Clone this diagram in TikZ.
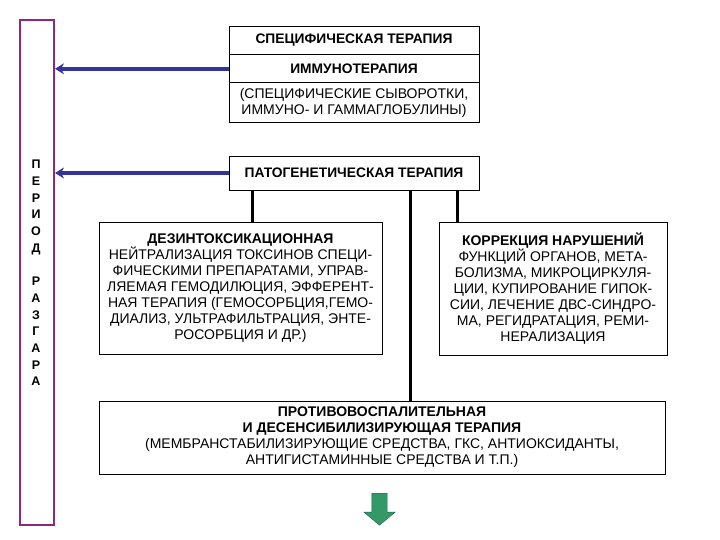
\documentclass[tikz,border=0pt]{standalone}
\usepackage{fontspec}
\setmainfont{Liberation Sans}
\usetikzlibrary{positioning,arrows.meta,shapes.arrows}
\definecolor{arrowblue}{RGB}{51,51,153}
\definecolor{barpurple}{RGB}{140,40,130}
\definecolor{nextgreen}{RGB}{51,153,102}
\definecolor{nextedge}{RGB}{30,100,70}
\begin{document}
\begin{tikzpicture}[x=1pt, y=-1pt,
      every node/.style={inner sep=2pt, align=center, font=\fontsize{14}{16}\selectfont},
      box/.style={draw, line width=0.8pt},
      topbox/.style={box, minimum width=250pt},
      periodbar/.style={draw=barpurple, line width=2pt, minimum width=34pt, minimum height=505pt},
      tomain/.style={arrowblue, line width=4pt, -{Stealth[length=9pt, width=11pt]}},
      link/.style={line width=3pt},
      nextstep/.style={single arrow, shape border rotate=270, fill=nextgreen, draw=nextedge,
        inner sep=7.5pt, single arrow head extend=8pt, single arrow tip angle=100, minimum height=32pt}]
      \useasboundingbox (0,0) rectangle (720,540);
      \node[periodbar] (period) at (37,272.5) {};
      \node[font=\bfseries\fontsize{12.5}{16.7}\selectfont] (periodtext) at (36,273)
        {П\\Е\\Р\\И\\О\\Д\\ \\Р\\А\\З\\Г\\А\\Р\\А};
      \node[topbox, minimum height=28pt, font=\bfseries\fontsize{13.8}{16}\selectfont] (spec) at (354,40) {СПЕЦИФИЧЕСКАЯ ТЕРАПИЯ};
      \node[topbox, minimum height=28pt, font=\bfseries\fontsize{13.8}{16}\selectfont, below=0pt of spec] (immuno) {ИММУНОТЕРАПИЯ};
      \node[topbox, minimum height=40pt, below=-0.8pt of immuno] (sera) {(СПЕЦИФИЧЕСКИЕ СЫВОРОТКИ,\\ИММУНО- И ГАММАГЛОБУЛИНЫ)};
      \node[topbox, minimum height=34pt, font=\bfseries\fontsize{13.8}{16}\selectfont] (patho) at (354,173) {ПАТОГЕНЕТИЧЕСКАЯ ТЕРАПИЯ};
      \node[box, minimum width=283pt, minimum height=132pt] (detox) at (240.5,288)
        {\textbf{ДЕЗИНТОКСИКАЦИОННАЯ}\\НЕЙТРАЛИЗАЦИЯ ТОКСИНОВ СПЕЦИ-\\ФИЧЕСКИМИ ПРЕПАРАТАМИ, УПРАВ-\\ЛЯЕМАЯ ГЕМОДИЛЮЦИЯ, ЭФФЕРЕНТ-\\НАЯ ТЕРАПИЯ (ГЕМОСОРБЦИЯ,ГЕМО-\\ДИАЛИЗ, УЛЬТРАФИЛЬТРАЦИЯ, ЭНТЕ-\\РОСОРБЦИЯ И ДР.)};
      \node[box, minimum width=228pt, minimum height=133pt] (correct) at (553,288.5)
        {\textbf{КОРРЕКЦИЯ НАРУШЕНИЙ}\\ФУНКЦИЙ ОРГАНОВ, МЕТА-\\БОЛИЗМА, МИКРОЦИРКУЛЯ-\\ЦИИ, КУПИРОВАНИЕ ГИПОК-\\СИИ, ЛЕЧЕНИЕ ДВС-СИНДРО-\\МА, РЕГИДРАТАЦИЯ, РЕМИ-\\НЕРАЛИЗАЦИЯ};
      \node[box, minimum width=566pt, minimum height=73pt] (anti) at (382,437.5)
        {\textbf{ПРОТИВОВОСПАЛИТЕЛЬНАЯ}\\\textbf{И ДЕСЕНСИБИЛИЗИРУЮЩАЯ ТЕРАПИЯ}\\(МЕМБРАНСТАБИЛИЗИРУЮЩИЕ СРЕДСТВА, ГКС, АНТИОКСИДАНТЫ,\\АНТИГИСТАМИННЫЕ СРЕДСТВА И Т.П.)};
      \node[nextstep] (next) at (379.5,506) {};
      \draw[tomain] (immuno.west) -- (immuno.west -| period.east);
      \draw[tomain] (patho.west) -- (patho.west -| period.east);
      \draw[link] ([xshift=24pt]patho.south west) -- ([xshift=24pt]patho.south west |- detox.north);
      \draw[link] ([xshift=182pt]patho.south west) -- ([xshift=182pt]patho.south west |- anti.north);
      \draw[link] ([xshift=-22pt]patho.south east) -- ([xshift=-22pt]patho.south east |- correct.north);
    \end{tikzpicture}
\end{document}
